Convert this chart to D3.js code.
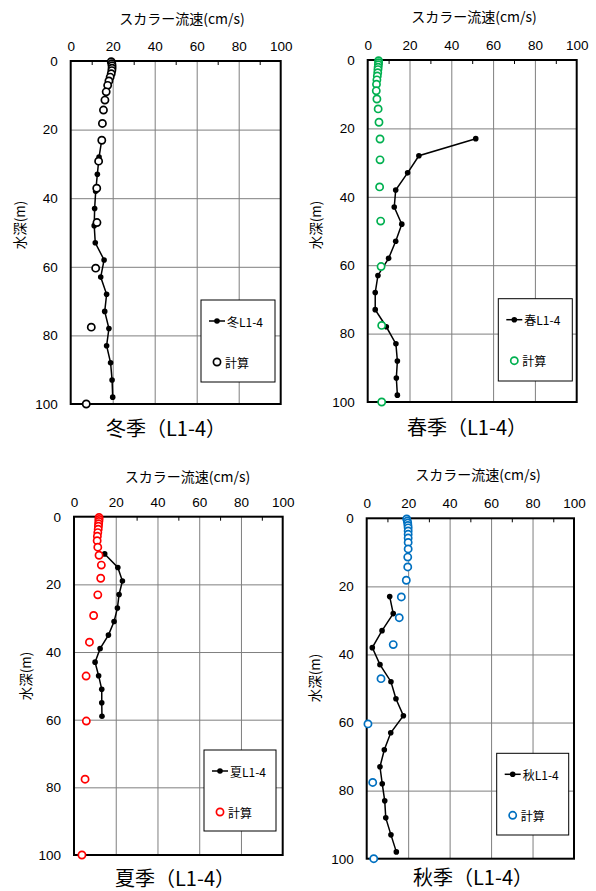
<!DOCTYPE html>
<html lang="ja">
<head>
<meta charset="UTF-8">
<script src="https://d3js.org/d3.v7.min.js"></script>
<style>
  body { margin: 0; background: #fff; }
  svg { display: block; }
  text { font-family: 'Noto Sans CJK JP', sans-serif; fill: #000; }
  .tick text { font-family: 'Liberation Sans', Arial, sans-serif; font-size: 13.5px; }
</style>
</head>
<body>
<div id="chart"></div>
<script>
// axis ticks
var xTicks = [0, 20, 40, 60, 80, 100];
var yTicks = [0, 20, 40, 60, 80, 100];
var gridTicks = [20, 40, 60, 80];
var minorTicks = [10, 30, 50, 70, 90];

// model layer depths (m) for the 計算 circles
var calcDepth = [0.2, 0.8, 1.4, 2.1, 2.8, 3.7, 4.7, 5.8, 7.1, 9.0, 11.4, 14.3, 18.2, 23.1, 29.2, 37.1, 47.1, 60.4, 77.6, 100];

// 冬
var winterCalc = [19.3, 19.6, 19.7, 19.7, 19.6, 19.3, 18.8, 18.2, 17.6, 16.9, 16.3, 15.6, 15.1, 14.8, 13.3, 12.4, 12.5, 11.9, 9.8, 7.4];
var winterObsDepth = [23, 28, 33, 38, 43, 48, 53, 58, 63, 68, 73, 78, 83, 88, 93, 98];
var winterObs = [14.8, 13.5, 12.7, 11.9, 11.4, 11.2, 11.7, 15.9, 14.3, 17.1, 16.2, 18.2, 17.1, 19.0, 19.7, 20.0];

// 春
var springCalc = [5.2, 5.2, 5.1, 5.0, 4.9, 4.8, 4.6, 4.4, 4.2, 4.1, 4.4, 5.0, 5.4, 5.9, 5.9, 5.7, 6.2, 6.4, 6.7, 6.7];
var springObsDepth = [23, 28, 33, 38, 43, 48, 53, 58, 63, 68, 73, 78, 83, 88, 93, 98];
var springObs = [51.7, 24.5, 19.1, 13.4, 12.7, 16.3, 13.4, 10.0, 4.9, 3.6, 3.6, 8.9, 13.5, 14.2, 13.7, 14.2];

// 夏
var summerCalc = [12.0, 12.0, 11.9, 11.8, 11.7, 11.6, 11.4, 11.2, 11.1, 11.4, 12.0, 13.1, 12.8, 11.4, 9.4, 7.4, 5.8, 5.9, 5.3, 3.8];
var summerObsDepth = [11, 15, 19, 23, 27, 31, 35, 39, 43, 47, 51, 55, 59];
var summerObs = [14.7, 21.0, 23.2, 21.6, 20.8, 19.2, 16.5, 12.5, 10.1, 11.8, 13.3, 13.3, 13.4];

// 秋
var autumnCalc = [19.3, 19.6, 19.8, 19.9, 20.0, 20.0, 20.0, 20.0, 20.0, 20.0, 19.8, 19.8, 19.1, 16.7, 15.7, 12.8, 6.9, 0.6, 2.9, 3.4];
var autumnObsDepth = [23, 28, 33, 38, 43, 48, 53, 58, 63, 68, 73, 78, 83, 88, 93, 98];
var autumnObs = [11.1, 12.8, 7.4, 2.7, 6.4, 11.7, 14.1, 17.7, 11.6, 8.5, 6.4, 7.5, 8.7, 9.2, 11.7, 14.3];

var panels = [
  { season: "冬", obs: winterObs, obsDepth: winterObsDepth, calc: winterCalc, color: "#000000",
    left: 70.7, right: 280.7, top: 61, bottom: 404,
    titleX: 182, titleY: 18, ylabX: 18.5, ylabY: 225, capX: 166, capY: 427,
    legend: { x: 201, y: 300, w: 74, h: 82 } },
  { season: "春", obs: springObs, obsDepth: springObsDepth, calc: springCalc, color: "#00b050",
    left: 367.7, right: 576.7, top: 60, bottom: 402,
    titleX: 474, titleY: 16, ylabX: 315, ylabY: 225, capX: 467, capY: 426,
    legend: { x: 498.3, y: 298.7, w: 74, h: 82.3 } },
  { season: "夏", obs: summerObs, obsDepth: summerObsDepth, calc: summerCalc, color: "#ff0000",
    left: 74, right: 282.7, top: 516.7, bottom: 855,
    titleX: 187.5, titleY: 476, ylabX: 25, ylabY: 676, capX: 175, capY: 877,
    legend: { x: 204, y: 750, w: 72, h: 81 } },
  { season: "秋", obs: autumnObs, obsDepth: autumnObsDepth, calc: autumnCalc, color: "#0070c0",
    left: 366.7, right: 574, top: 518.3, bottom: 858.7,
    titleX: 478, titleY: 474, ylabX: 313.5, ylabY: 678, capX: 473, capY: 876,
    legend: { x: 496.7, y: 753.3, w: 72, h: 81.7 } }
];

var svg = d3.select("#chart").append("svg")
  .attr("width", 596)
  .attr("height", 891);

svg.append("rect").attr("width", 596).attr("height", 891).attr("fill", "#fff");

panels.forEach(function(p) {
  var x = d3.scaleLinear().domain([0, 100]).range([p.left, p.right]);
  var y = d3.scaleLinear().domain([0, 100]).range([p.top, p.bottom]);
  var g = svg.append("g");

  // grid
  g.append("g")
    .attr("transform", "translate(0," + p.top + ")")
    .call(d3.axisTop(x).tickValues(gridTicks).tickSize(-(p.bottom - p.top)).tickFormat(""))
    .call(function(s) {
      s.select(".domain").remove();
      s.selectAll("line").attr("stroke", "#7f7f7f").attr("stroke-width", 1);
    });
  g.append("g")
    .attr("transform", "translate(" + p.left + ",0)")
    .call(d3.axisLeft(y).tickValues(gridTicks).tickSize(-(p.right - p.left)).tickFormat(""))
    .call(function(s) {
      s.select(".domain").remove();
      s.selectAll("line").attr("stroke", "#7f7f7f").attr("stroke-width", 1);
    });

  // minor ticks on top edge
  g.append("g")
    .attr("transform", "translate(0," + p.top + ")")
    .call(d3.axisTop(x).tickValues(minorTicks).tickSize(-4).tickFormat(""))
    .call(function(s) {
      s.select(".domain").remove();
      s.selectAll("line").attr("stroke", "#000");
    });

  // tick labels
  g.append("g")
    .attr("transform", "translate(0," + p.top + ")")
    .call(d3.axisTop(x).tickValues(xTicks).tickSize(0).tickPadding(10))
    .call(function(s) { s.select(".domain").remove(); });
  g.append("g")
    .attr("transform", "translate(" + p.left + ",0)")
    .call(d3.axisLeft(y).tickValues(yTicks).tickSize(0).tickPadding(13))
    .call(function(s) { s.select(".domain").remove(); });

  // frame
  g.append("rect")
    .attr("x", p.left).attr("y", p.top)
    .attr("width", p.right - p.left).attr("height", p.bottom - p.top)
    .attr("fill", "none").attr("stroke", "#000").attr("stroke-width", 2);

  // titles
  g.append("text")
    .attr("x", p.titleX).attr("y", p.titleY)
    .attr("text-anchor", "middle").attr("dominant-baseline", "central")
    .attr("font-size", "14px")
    .text("スカラー流速(cm/s)");
  g.append("text")
    .attr("transform", "translate(" + p.ylabX + "," + p.ylabY + ") rotate(-90)")
    .attr("text-anchor", "middle").attr("dominant-baseline", "central")
    .attr("font-size", "13.5px")
    .text("水深(m)");
  g.append("text")
    .attr("x", p.capX).attr("y", p.capY)
    .attr("text-anchor", "middle").attr("dominant-baseline", "central")
    .attr("font-size", "20px")
    .text(p.season + "季（L1-4）");

  // observed line
  var obsData = p.obs.map(function(v, i) { return [v, p.obsDepth[i]]; });
  var line = d3.line().x(function(d) { return x(d[0]); }).y(function(d) { return y(d[1]); });
  g.append("path")
    .datum(obsData)
    .attr("d", line)
    .attr("fill", "none").attr("stroke", "#000").attr("stroke-width", 1.5);
  g.selectAll(".dot")
    .data(obsData)
    .enter().append("circle")
      .attr("cx", function(d) { return x(d[0]); })
      .attr("cy", function(d) { return y(d[1]); })
      .attr("r", 2.8)
      .attr("fill", "#000");

  // computed circles
  var calcData = p.calc.map(function(v, i) { return [v, calcDepth[i]]; });
  g.selectAll(".calc")
    .data(calcData)
    .enter().append("circle")
      .attr("cx", function(d) { return x(d[0]); })
      .attr("cy", function(d) { return y(d[1]); })
      .attr("r", 3.6)
      .attr("fill", "#fff")
      .attr("stroke", p.color)
      .attr("stroke-width", 1.7);

  // legend
  var L = p.legend;
  var lg = g.append("g").attr("transform", "translate(" + L.x + "," + L.y + ")");
  lg.append("rect")
    .attr("width", L.w).attr("height", L.h)
    .attr("fill", "#fff").attr("stroke", "#000").attr("stroke-width", 1);
  lg.append("line")
    .attr("x1", 8).attr("x2", 24).attr("y1", 21).attr("y2", 21)
    .attr("stroke", "#000").attr("stroke-width", 1.5);
  lg.append("circle").attr("cx", 16).attr("cy", 21).attr("r", 2.8).attr("fill", "#000");
  lg.append("text")
    .attr("x", 26).attr("y", 21)
    .attr("dominant-baseline", "central")
    .attr("font-size", "12px")
    .text(p.season + "L1-4");
  lg.append("circle")
    .attr("cx", 16).attr("cy", 62).attr("r", 3.6)
    .attr("fill", "#fff").attr("stroke", p.color).attr("stroke-width", 1.7);
  lg.append("text")
    .attr("x", 24).attr("y", 62)
    .attr("dominant-baseline", "central")
    .attr("font-size", "12px")
    .text("計算");
});
</script>
</body>
</html>
